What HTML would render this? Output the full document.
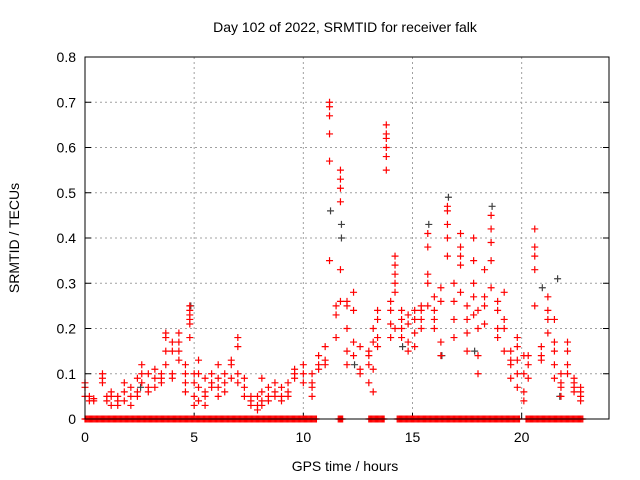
<!DOCTYPE html>
<html><head><meta charset="utf-8"><style>
html,body{margin:0;padding:0;background:#fff;}
svg{display:block;font-family:"Liberation Sans",sans-serif;}
</style></head><body>
<svg id="chart" width="640" height="480" viewBox="0 0 640 480" xmlns="http://www.w3.org/2000/svg">
<text x="345" y="32" font-size="14" text-anchor="middle">Day 102 of 2022, SRMTID for receiver falk</text>
<text transform="translate(19,238) rotate(-90)" font-size="14" text-anchor="middle">SRMTID / TECUs</text>
<text x="345" y="471" font-size="14" text-anchor="middle">GPS time / hours</text>
<g id="grid"></g>
<g id="ticks"></g>
<g id="gray"></g>
<g id="red"></g>
<g id="zeros"></g>
<rect x="85" y="57" width="524" height="362" fill="none" stroke="#000" stroke-width="1"/>
</svg>
<script>
const xTicks=[0,5,10,15,20];
const yTicks=[0,0.1,0.2,0.3,0.4,0.5,0.6,0.7,0.8];
const yTickLabels=["0","0.1","0.2","0.3","0.4","0.5","0.6","0.7","0.8"];
const redHours=[0.0,0.2,0.4,0.8,1.0,1.2,1.5,1.8,2.1,2.4,2.6,2.9,3.2,3.5,3.7,4.0,4.3,4.6,4.8,5.0,5.2,5.5,5.8,6.1,6.4,6.7,7.0,7.3,7.6,7.9,8.1,8.4,8.7,9.0,9.3,9.6,10.0,10.4,10.7,11.0,11.2,11.5,11.7,12.0,12.3,12.6,13.0,13.2,13.4,13.8,14.0,14.2,14.5,14.8,15.1,15.4,15.7,16.0,16.3,16.6,16.9,17.2,17.5,17.8,18.0,18.3,18.6,18.9,19.2,19.5,19.8,20.1,20.3,20.6,20.9,21.2,21.5,21.8,22.1,22.4,22.7];
const redVals=[[0.08,0.07,0.05],[0.05,0.04],[0.04,0.045],[0.1,0.08,0.09],[0.05,0.04],[0.03,0.05,0.06],[0.04,0.03,0.05],[0.06,0.04,0.08],[0.05,0.07,0.03],[0.06,0.09,0.05],[0.12,0.08,0.1],[0.07,0.06,0.1],[0.07,0.09,0.11],[0.1,0.08,0.09],[0.19,0.18,0.15,0.12],[0.1,0.15,0.17,0.09],[0.17,0.19,0.13,0.15],[0.08,0.12,0.1,0.06],[0.22,0.24,0.25,0.23,0.21,0.18],[0.1,0.05,0.08,0.03],[0.13,0.1,0.07,0.04],[0.06,0.09,0.05,0.03],[0.07,0.1,0.08],[0.12,0.09,0.05,0.07],[0.08,0.06,0.1],[0.12,0.09,0.13],[0.18,0.16,0.1,0.08],[0.07,0.05,0.09],[0.05,0.04,0.03],[0.02,0.03,0.05],[0.04,0.06,0.03,0.09],[0.05,0.07,0.04],[0.06,0.08,0.05],[0.07,0.05,0.04],[0.06,0.08,0.05],[0.1,0.09,0.11],[0.1,0.12,0.08],[0.08,0.07,0.1,0.05],[0.11,0.14,0.12],[0.13,0.16,0.12],[0.35,0.57,0.63,0.67,0.7,0.69],[0.23,0.25,0.18],[0.55,0.53,0.51,0.48,0.33,0.26],[0.25,0.2,0.15,0.12,0.26],[0.28,0.24,0.17,0.14],[0.1,0.11,0.16],[0.12,0.14,0.08,0.15],[0.11,0.06,0.17,0.2],[0.22,0.16,0.18,0.24],[0.55,0.58,0.6,0.62,0.65,0.63],[0.21,0.24,0.26,0.18],[0.36,0.32,0.34,0.28,0.2,0.3],[0.22,0.18,0.2,0.24],[0.23,0.15,0.17,0.21],[0.16,0.22,0.24,0.19],[0.25,0.22,0.2,0.24],[0.25,0.3,0.32,0.38,0.41],[0.2,0.24,0.27,0.22],[0.14,0.17,0.26,0.29],[0.4,0.43,0.46,0.47,0.36],[0.3,0.26,0.22,0.18],[0.34,0.38,0.41,0.36,0.28],[0.19,0.22,0.25,0.15],[0.4,0.35,0.3,0.27,0.23],[0.1,0.14,0.2,0.24],[0.33,0.27,0.25,0.21],[0.45,0.42,0.39,0.35,0.29],[0.2,0.24,0.26,0.18],[0.28,0.22,0.2,0.15],[0.15,0.12,0.09,0.13],[0.13,0.1,0.07,0.16,0.18],[0.14,0.1,0.06,0.04],[0.14,0.12,0.09],[0.42,0.38,0.33,0.36,0.25],[0.16,0.14,0.13],[0.27,0.22,0.24,0.19],[0.15,0.12,0.09,0.17,0.22],[0.05,0.08,0.1,0.07],[0.17,0.15,0.12,0.1],[0.08,0.06,0.07,0.09],[0.05,0.06,0.04,0.07]];
const grayHours=[2.5,4.8,11.2,11.7,11.7,12.3,14.5,15.7,16.3,16.6,17.8,18.6,20.9,21.6,21.7];
const grayVals=[0.07,0.25,0.46,0.43,0.40,0.12,0.16,0.43,0.14,0.49,0.15,0.47,0.29,0.31,0.05];
const zeroSegStart=[0.0,11.6,13.0,14.3,20.2];
const zeroSegEnd=[10.6,11.8,13.7,19.9,22.8];
const zeroStep=0.05;

const X0=85,X1=609,Y0=419,Y1=57,XMAX=24,YMAX=0.8;
const sx=h=>X0+(h/XMAX)*(X1-X0);
const sy=v=>Y0-(v/YMAX)*(Y0-Y1);
const NS="http://www.w3.org/2000/svg";
function mk(tag,attrs,parent){const e=document.createElementNS(NS,tag);for(const k in attrs)e.setAttribute(k,attrs[k]);parent.appendChild(e);return e;}
const grid=document.getElementById('grid'),ticks=document.getElementById('ticks');
yTicks.forEach((v,i)=>{
  const y=sy(v);
  if(i>0&&i<yTicks.length-1){const g=mk('line',{x1:X0,x2:X1,y1:y,y2:y,stroke:'#a0a0a0','stroke-dasharray':'2,3'},grid);
    
    }
  const t=mk('line',{x1:X0,x2:X0+6,y1:y,y2:y,stroke:'#000'},ticks);
  
  
  const t2=mk('line',{x1:X1-6,x2:X1,y1:y,y2:y,stroke:'#000'},ticks);
  
  
  const l=mk('text',{x:X0-9,y:y+5,'font-size':14,'text-anchor':'end'},ticks);
  l.textContent=yTickLabels[i];
  
  
});
xTicks.forEach(h=>{
  const x=sx(h);
  if(h>0){const g=mk('line',{x1:x,x2:x,y1:Y1,y2:Y0,stroke:'#a0a0a0','stroke-dasharray':'2,3'},grid);
    
    }
  const t=mk('line',{x1:x,x2:x,y1:Y0,y2:Y0-6,stroke:'#000'},ticks);
  
  
  const l=mk('text',{x:x,y:Y0+23,'font-size':14,'text-anchor':'middle'},ticks);
  l.textContent=String(h);
  
  
});
function plus(parent,x,y,color){
  const p=mk('path',{d:`M${x-3.5},${y}H${x+3.5}M${x},${y-3.5}V${y+3.5}`,stroke:color,'stroke-width':1.2,fill:'none'},parent);
  return p;
}
const gG=document.getElementById('gray');
grayHours.forEach((h,i)=>{
  const p=plus(gG,sx(h)+1,sy(grayVals[i]),'#404040');
  
  
});
const rG=document.getElementById('red');
redHours.forEach((h,i)=>{
  redVals[i].forEach(v=>{
    const p=plus(rG,sx(h),sy(v),'#ff0000');
    
    
  });
});
const zG=document.getElementById('zeros');
zeroSegStart.forEach((s,i)=>{
  for(let h=s;h<=zeroSegEnd[i]+1e-9;h+=zeroStep){
    const p=plus(zG,sx(h),sy(0),'#ff0000');
    
    
  }
});
</script>
</body></html>
